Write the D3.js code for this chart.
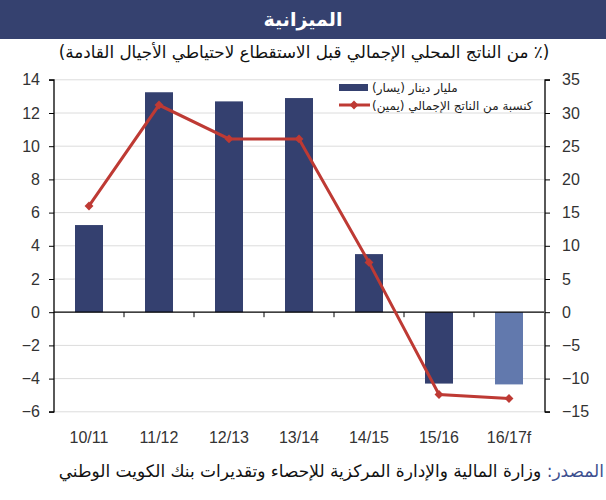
<!DOCTYPE html>
<html>
<head>
<meta charset="utf-8">
<script src="https://cdn.jsdelivr.net/npm/d3@7"></script>
<style>
  body { margin: 0; background: #fff; }
  svg text { font-family: "Liberation Sans", Arial, sans-serif; }
  .ar { font-family: "DejaVu Sans", sans-serif; direction: rtl; unicode-bidi: embed; }
</style>
</head>
<body>
<div id="chart"></div>
<script>
const years = ['10/11', '11/12', '12/13', '13/14', '14/15', '15/16', '16/17f'];
const balanceKD = [5.25, 13.25, 12.7, 12.9, 3.5, -4.3, -4.35];   // billion KD (left)
const balancePct = [16, 31.2, 26.1, 26.1, 7.5, -12.4, -13.0];     // % of GDP (right)
const leftTicks = [-6, -4, -2, 0, 2, 4, 6, 8, 10, 12, 14];
const rightTicks = [-15, -10, -5, 0, 5, 10, 15, 20, 25, 30, 35];

const width = 606, height = 500;
const plot = { left: 54, right: 544, top: 79.8, bottom: 411.8 };

const navy = '#34406f';
const lightBlue = '#6279ad';
const red = '#be3a34';

const svg = d3.select('#chart').append('svg')
    .attr('width', width)
    .attr('height', height);

// title band
svg.append('rect')
    .attr('x', 0).attr('y', 0)
    .attr('width', width).attr('height', 39)
    .attr('fill', '#35416f');

svg.append('text')
    .attr('class', 'ar')
    .attr('x', 303).attr('y', 26)
    .attr('text-anchor', 'middle')
    .attr('fill', '#fff')
    .attr('font-size', 19)
    .attr('font-weight', 'bold')
    .text('الميزانية');

svg.append('text')
    .attr('class', 'ar')
    .attr('x', 304).attr('y', 58)
    .attr('text-anchor', 'middle')
    .attr('fill', '#111')
    .attr('font-size', 16.8)
    .text('(٪ من الناتج المحلي الإجمالي قبل الاستقطاع لاحتياطي الأجيال القادمة)');

const x = d3.scaleBand()
    .domain(years)
    .range([plot.left, plot.right])
    .paddingInner(0.6)
    .paddingOuter(0.3);

const yL = d3.scaleLinear().domain([-6, 14]).range([plot.bottom, plot.top]);
const yR = d3.scaleLinear().domain([-15, 35]).range([plot.bottom, plot.top]);

// gridlines
svg.append('g')
    .selectAll('line')
    .data(leftTicks.filter(d => d !== 0))
    .enter()
    .append('line')
    .attr('x1', plot.left).attr('x2', plot.right)
    .attr('y1', d => yL(d)).attr('y2', d => yL(d))
    .attr('stroke', '#dcdcdc')
    .attr('stroke-width', 1);

// bars
svg.append('g')
    .selectAll('rect')
    .data(balanceKD)
    .enter()
    .append('rect')
    .attr('x', (d, i) => x(years[i]))
    .attr('width', x.bandwidth())
    .attr('y', d => yL(Math.max(0, d)))
    .attr('height', d => Math.abs(yL(d) - yL(0)))
    .attr('fill', (d, i) => i === years.length - 1 ? lightBlue : navy);

// zero line with category ticks
svg.append('line')
    .attr('x1', plot.left).attr('x2', plot.right)
    .attr('y1', yL(0)).attr('y2', yL(0))
    .attr('stroke', '#000').attr('stroke-width', 1.2);

svg.append('g')
    .selectAll('line')
    .data(years.slice(1))
    .enter()
    .append('line')
    .attr('x1', d => x(d) - x.step() * x.paddingInner() / 2)
    .attr('x2', d => x(d) - x.step() * x.paddingInner() / 2)
    .attr('y1', yL(0)).attr('y2', yL(0) + 5)
    .attr('stroke', '#000');

// left axis
const leftAxis = svg.append('g')
    .attr('transform', `translate(${plot.left},0)`)
    .call(d3.axisLeft(yL).tickValues(leftTicks).tickSize(5).tickPadding(9));
leftAxis.select('.domain').attr('d', `M-5,${plot.top}H0V${plot.bottom}H-5`).attr('stroke-width', 1.3);
leftAxis.selectAll('text').attr('font-size', 16).attr('fill', '#333')
    .attr('font-family', '"Liberation Sans", Arial, sans-serif');

// right axis
const rightAxis = svg.append('g')
    .attr('transform', `translate(${plot.right + 1},0)`)
    .call(d3.axisRight(yR).tickValues(rightTicks).tickSize(5).tickPadding(12));
rightAxis.select('.domain').attr('d', `M5,${plot.top}H0V${plot.bottom}H5`).attr('stroke-width', 1.3);
rightAxis.selectAll('text').attr('font-size', 16).attr('fill', '#333')
    .attr('font-family', '"Liberation Sans", Arial, sans-serif');

// x labels
svg.append('g')
    .selectAll('text')
    .data(years)
    .enter()
    .append('text')
    .attr('x', d => x(d) + x.bandwidth() / 2)
    .attr('y', 443)
    .attr('text-anchor', 'middle')
    .attr('font-size', 16)
    .attr('font-weight', 'normal')
    .attr('fill', '#333')
    .text(d => d);

// line
const line = d3.line()
    .x((d, i) => x(years[i]) + x.bandwidth() / 2)
    .y(d => yR(d));

svg.append('path')
    .datum(balancePct)
    .attr('d', line)
    .attr('fill', 'none')
    .attr('stroke', red)
    .attr('stroke-width', 3);

const diamond = d3.symbol().type(d3.symbolDiamond2).size(50);
svg.append('g')
    .selectAll('path')
    .data(balancePct)
    .enter()
    .append('path')
    .attr('d', diamond)
    .attr('transform', (d, i) => `translate(${x(years[i]) + x.bandwidth() / 2},${yR(d)})`)
    .attr('fill', red);

// legend
const legend = svg.append('g');
legend.append('rect')
    .attr('x', 339).attr('y', 84)
    .attr('width', 29).attr('height', 7)
    .attr('fill', navy);
legend.append('line')
    .attr('x1', 339).attr('x2', 370)
    .attr('y1', 105).attr('y2', 105)
    .attr('stroke', red).attr('stroke-width', 3);
legend.append('path')
    .attr('d', diamond)
    .attr('transform', 'translate(354,105)')
    .attr('fill', red);
legend.append('text')
    .attr('class', 'ar')
    .attr('x', 372).attr('y', 92)
    .attr('text-anchor', 'end')
    .attr('font-size', 12)
    .attr('fill', '#222')
    .text('مليار دينار (يسار)');
legend.append('text')
    .attr('class', 'ar')
    .attr('x', 372).attr('y', 110)
    .attr('text-anchor', 'end')
    .attr('font-size', 12)
    .attr('fill', '#222')
    .text('كنسبة من الناتج الإجمالي (يمين)');

// source
const src = svg.append('text')
    .attr('class', 'ar')
    .attr('x', 604).attr('y', 477)
    .attr('text-anchor', 'start')
    .attr('font-size', 17);
src.append('tspan').attr('fill', '#3d4f8f').text('المصدر: ');
src.append('tspan').attr('fill', '#111').text('وزارة المالية والإدارة المركزية للإحصاء وتقديرات بنك الكويت الوطني');
</script>
</body>
</html>
